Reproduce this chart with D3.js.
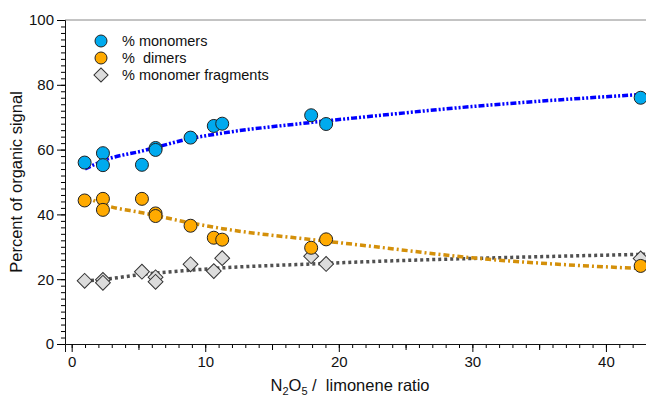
<!DOCTYPE html>
<html>
<head>
<meta charset="utf-8">
<script src="https://cdn.jsdelivr.net/npm/d3@7"></script>
<style>
  body { margin: 0; background: #fff; }
  text { font-family: "Liberation Sans", Arial, sans-serif; fill: #111; }
</style>
</head>
<body>
<div id="chart"></div>
<script>
// measured points (N2O5/limonene ratio vs percent)
var monoX = [0.97, 2.34, 2.34, 5.26, 6.28, 6.28, 8.9, 10.64, 11.27, 17.93, 19.05, 42.6];
var monoY = [56.0, 58.9, 55.2, 55.3, 60.5, 59.9, 63.7, 67.3, 68.0, 70.6, 67.9, 76.0];

var dimX = [0.97, 2.34, 2.34, 5.26, 6.28, 6.28, 8.9, 10.64, 11.27, 17.93, 19.05, 42.6];
var dimY = [44.3, 44.8, 41.4, 44.8, 40.3, 39.5, 36.5, 32.8, 32.2, 29.7, 32.3, 24.1];

var fragX = [0.97, 2.34, 2.34, 5.26, 6.28, 6.28, 8.9, 10.64, 11.27, 17.93, 19.05, 42.6];
var fragY = [19.5, 19.8, 18.9, 22.3, 20.6, 19.2, 24.6, 22.5, 26.5, 27.1, 24.7, 26.4];

// fitted trend lines
var fitX = [1.0, 2.5, 5.3, 9.0, 11.3, 18, 21.5, 30, 43];
var monoFit = [54.0, 56.8, 59.6, 63.5, 65.1, 68.4, 69.9, 73.3, 77.1];
var dimFit = [45.5, 42.9, 40.5, 37.3, 35.6, 32.2, 30.6, 26.6, 23.2];
var fragFit = [19.5, 20.0, 21.5, 22.8, 23.5, 24.7, 25.3, 26.4, 27.7];

var legendNames = ['% monomers', '%  dimers', '% monomer fragments'];
var yTicks = [0, 20, 40, 60, 80, 100];
var xTicks = [0, 10, 20, 30, 40];

var width = 646, height = 399;

var svg = d3.select('#chart')
  .append('svg')
  .attr('width', width)
  .attr('height', height);

var x = d3.scaleLinear().domain([-0.5, 43]).range([65, 646]);
var y = d3.scaleLinear().domain([0, 100]).range([344, 20]);

// top frame line
svg.append('line')
  .attr('x1', 65).attr('x2', 646)
  .attr('y1', 20).attr('y2', 20)
  .attr('stroke', '#888').attr('stroke-width', 1);

// y axis, minor ticks every 2
svg.append('g')
  .attr('transform', 'translate(65,0)')
  .call(d3.axisLeft(y).tickValues(d3.range(0, 101, 2)).tickSize(4).tickFormat(''))
  .call(g => g.select('.domain').remove());

var yAxis = svg.append('g')
  .attr('transform', 'translate(65,0)')
  .call(d3.axisLeft(y).tickValues(yTicks).tickSize(8).tickPadding(3));
yAxis.selectAll('text').style('font-size', '15px').attr('fill', '#111');
yAxis.select('.domain').attr('stroke', '#111');

// x axis, minor ticks every 1
svg.append('g')
  .attr('transform', 'translate(0,344)')
  .call(d3.axisBottom(x).tickValues(d3.range(0, 44, 1)).tickSize(4).tickFormat(''))
  .call(g => g.select('.domain').remove());
svg.append('g')
  .attr('transform', 'translate(0,344)')
  .call(d3.axisBottom(x).tickValues(d3.range(5, 44, 10)).tickSize(6).tickFormat(''))
  .call(g => g.select('.domain').remove());

var xAxis = svg.append('g')
  .attr('transform', 'translate(0,344)')
  .call(d3.axisBottom(x).tickValues(xTicks).tickSize(8).tickPadding(4));
xAxis.selectAll('text').style('font-size', '15px').attr('fill', '#111');
xAxis.select('.domain').attr('stroke', '#111');

// axis titles
svg.append('text')
  .attr('transform', 'translate(22,182) rotate(-90)')
  .attr('text-anchor', 'middle')
  .style('font-size', '16.5px')
  .text('Percent of organic signal');

var xt = svg.append('text')
  .attr('x', 350).attr('y', 391)
  .attr('text-anchor', 'middle')
  .style('font-size', '16.5px')
  .style('white-space', 'pre');
xt.append('tspan').text('N');
xt.append('tspan').attr('dy', 4).style('font-size', '11px').text('2');
xt.append('tspan').attr('dy', -4).text('O');
xt.append('tspan').attr('dy', 4).style('font-size', '11px').text('5');
xt.append('tspan').attr('dy', -4).text(' /  limonene ratio');

// fit lines
var line = d3.line()
  .x(d => x(d[0]))
  .y(d => y(d[1]))
  .curve(d3.curveMonotoneX);

function fitLine(vals, color, dash, w) {
  svg.append('path')
    .datum(fitX.map((v, i) => [v, vals[i]]))
    .attr('d', line)
    .attr('fill', 'none')
    .attr('stroke', color)
    .attr('stroke-width', w)
    .attr('stroke-dasharray', dash);
}

fitLine(fragFit, '#505050', '3,3', 3.5);
fitLine(dimFit, '#d4900a', '6,3,2,3', 3.5);
fitLine(monoFit, '#0000ff', '6,2,2,2,2,2', 3.5);

// markers
var diamond = d3.symbol().type(d3.symbolSquare).size(110);

svg.append('g').selectAll('path')
  .data(fragX.map((v, i) => [v, fragY[i]]))
  .enter()
  .append('path')
  .attr('d', diamond)
  .attr('transform', d => `translate(${x(d[0])},${y(d[1])}) rotate(45)`)
  .attr('fill', '#dcdcdc')
  .attr('stroke', '#333')
  .attr('stroke-width', 1);

svg.append('g').selectAll('circle')
  .data(dimX.map((v, i) => [v, dimY[i]]))
  .enter()
  .append('circle')
  .attr('cx', d => x(d[0]))
  .attr('cy', d => y(d[1]))
  .attr('r', 6.5)
  .attr('fill', '#ffaa00')
  .attr('stroke', '#222')
  .attr('stroke-width', 1);

svg.append('g').selectAll('circle')
  .data(monoX.map((v, i) => [v, monoY[i]]))
  .enter()
  .append('circle')
  .attr('cx', d => x(d[0]))
  .attr('cy', d => y(d[1]))
  .attr('r', 6.5)
  .attr('fill', '#00aaee')
  .attr('stroke', '#222')
  .attr('stroke-width', 1);

// legend
var legend = svg.append('g').attr('transform', 'translate(101,41)');
legendNames.forEach(function(name, i) {
  var row = legend.append('g').attr('transform', `translate(0,${i * 17})`);
  if (i < 2) {
    row.append('circle')
      .attr('r', 6)
      .attr('fill', i === 0 ? '#00aaee' : '#ffaa00')
      .attr('stroke', '#222');
  } else {
    row.append('path')
      .attr('d', d3.symbol().type(d3.symbolSquare).size(100))
      .attr('transform', 'rotate(45)')
      .attr('fill', '#dcdcdc')
      .attr('stroke', '#333');
  }
  row.append('text')
    .attr('x', 21).attr('y', 5)
    .style('font-size', '14.5px')
    .style('white-space', 'pre')
    .text(name);
});
</script>
</body>
</html>
